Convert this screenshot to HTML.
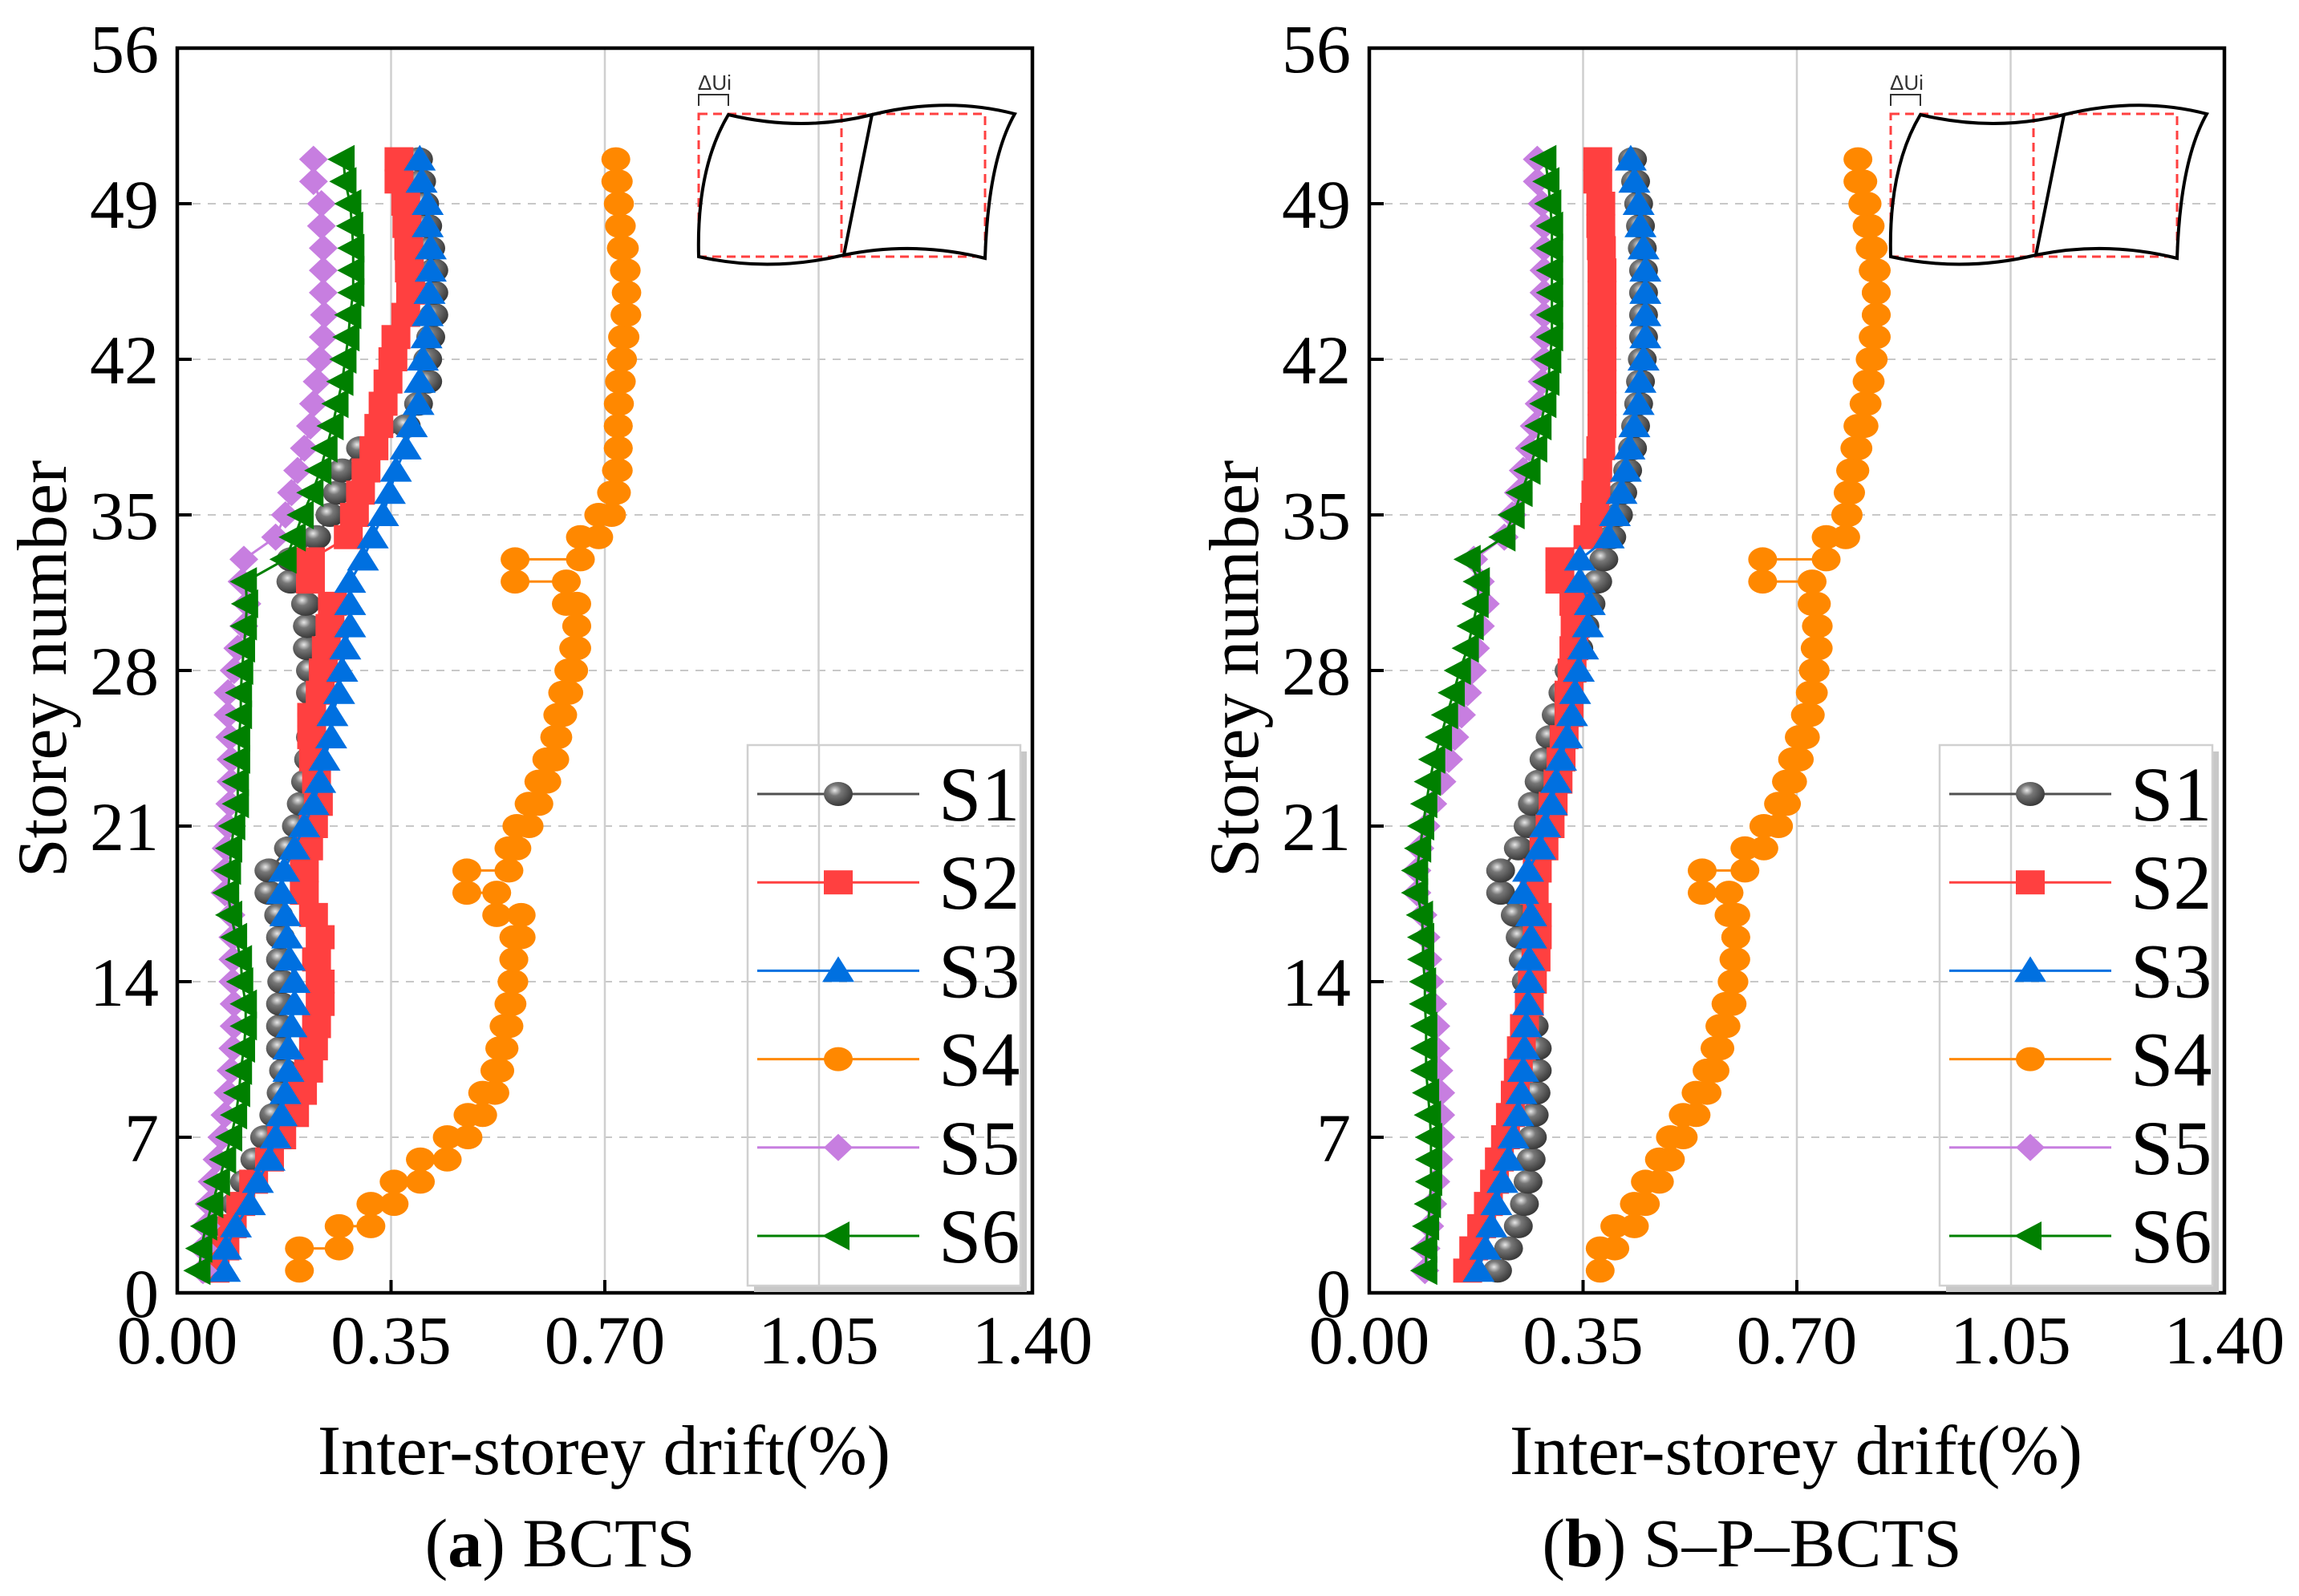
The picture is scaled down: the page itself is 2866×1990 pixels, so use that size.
<!DOCTYPE html>
<html><head><meta charset="utf-8"><style>
html,body{margin:0;padding:0;background:#fff;}
svg{display:block;font-family:"Liberation Serif",serif;}
</style></head><body>
<svg id="chart" width="2866" height="1990" viewBox="0 0 2866 1990" xmlns="http://www.w3.org/2000/svg">
<defs>
<radialGradient id="sphere" cx="0.38" cy="0.35" r="0.65">
<stop offset="0" stop-color="#e8e8e8"/><stop offset="0.35" stop-color="#777"/><stop offset="1" stop-color="#3a3a3a"/>
</radialGradient>
</defs>
</svg>
<script>
// ---- data (storey 1..51) ----
const storeys = [1,2,3,4,5,6,7,8,9,10,11,12,13,14,15,16,17,18,19,20,21,22,23,24,25,26,27,28,29,30,31,32,33,34,35,36,37,38,39,40,41,42,43,44,45,46,47,48,49,50,51];
const xTicks = ["0.00","0.35","0.70","1.05","1.40"];
const xTickValues = [0,0.35,0.70,1.05,1.40];
const yTicks = [0,7,14,21,28,35,42,49,56];
const seriesNames = ["S1","S2","S3","S4","S5","S6"];

const a_S1 = [0.055,0.065,0.08,0.095,0.11,0.127,0.143,0.158,0.17,0.174,0.169,0.169,0.169,0.171,0.169,0.169,0.166,0.15,0.15,0.182,0.195,0.203,0.21,0.215,0.218,0.22,0.218,0.218,0.213,0.213,0.21,0.186,0.186,0.228,0.25,0.262,0.27,0.30,0.375,0.395,0.41,0.41,0.415,0.42,0.42,0.42,0.415,0.41,0.405,0.40,0.395];
const a_S2 = [0.062,0.078,0.09,0.104,0.125,0.151,0.171,0.192,0.205,0.215,0.223,0.228,0.234,0.234,0.228,0.234,0.223,0.208,0.208,0.215,0.223,0.231,0.228,0.223,0.22,0.22,0.234,0.239,0.244,0.25,0.254,0.218,0.218,0.28,0.29,0.30,0.309,0.322,0.33,0.337,0.345,0.353,0.358,0.374,0.382,0.38,0.379,0.376,0.374,0.363,0.363];
const a_S3 = [0.078,0.08,0.096,0.119,0.132,0.151,0.161,0.171,0.177,0.182,0.182,0.187,0.192,0.192,0.184,0.18,0.177,0.171,0.175,0.192,0.208,0.223,0.234,0.241,0.252,0.254,0.265,0.27,0.275,0.283,0.283,0.283,0.304,0.32,0.337,0.348,0.358,0.374,0.384,0.395,0.397,0.402,0.408,0.41,0.413,0.415,0.415,0.41,0.41,0.4,0.397];
const a_S5 = [0.042,0.042,0.047,0.052,0.057,0.065,0.073,0.078,0.083,0.088,0.091,0.093,0.093,0.091,0.091,0.091,0.088,0.078,0.078,0.08,0.083,0.086,0.088,0.088,0.086,0.083,0.083,0.093,0.099,0.109,0.114,0.106,0.109,0.161,0.177,0.187,0.197,0.208,0.218,0.223,0.229,0.234,0.239,0.241,0.239,0.239,0.239,0.236,0.236,0.223,0.223];
const a_S6 = [0.036,0.039,0.047,0.057,0.068,0.078,0.088,0.096,0.101,0.104,0.109,0.112,0.112,0.106,0.104,0.096,0.088,0.083,0.086,0.088,0.093,0.099,0.099,0.101,0.101,0.104,0.104,0.106,0.109,0.112,0.114,0.112,0.177,0.192,0.205,0.221,0.234,0.244,0.254,0.262,0.27,0.275,0.28,0.283,0.288,0.288,0.288,0.286,0.283,0.275,0.272];
// S4 drift per storey interval k (storey k to k+1), k = 1..50
const a_S4 = [0.20,0.265,0.317,0.355,0.398,0.442,0.476,0.50,0.52,0.528,0.535,0.543,0.548,0.551,0.551,0.563,0.523,0.474,0.543,0.556,0.576,0.592,0.605,0.618,0.623,0.631,0.641,0.649,0.654,0.654,0.637,0.553,0.66,0.69,0.711,0.719,0.722,0.722,0.722,0.724,0.727,0.729,0.733,0.736,0.735,0.732,0.727,0.724,0.722,0.718];

const b_S1 = [0.21,0.228,0.244,0.254,0.26,0.265,0.267,0.27,0.273,0.275,0.275,0.27,0.262,0.257,0.252,0.247,0.239,0.215,0.215,0.244,0.26,0.267,0.278,0.286,0.296,0.306,0.317,0.327,0.343,0.353,0.363,0.374,0.384,0.397,0.408,0.415,0.423,0.431,0.436,0.441,0.444,0.447,0.449,0.449,0.449,0.449,0.447,0.444,0.441,0.436,0.431];
const b_S2 = [0.161,0.171,0.184,0.195,0.205,0.213,0.223,0.231,0.239,0.244,0.249,0.254,0.262,0.267,0.273,0.275,0.275,0.27,0.275,0.286,0.296,0.301,0.309,0.314,0.319,0.327,0.327,0.332,0.335,0.337,0.335,0.312,0.312,0.358,0.369,0.371,0.374,0.379,0.381,0.381,0.381,0.381,0.381,0.381,0.381,0.381,0.38,0.379,0.379,0.374,0.374];
const b_S3 = [0.179,0.19,0.2,0.208,0.218,0.228,0.236,0.244,0.249,0.252,0.254,0.257,0.26,0.262,0.262,0.265,0.265,0.252,0.26,0.28,0.288,0.299,0.306,0.314,0.324,0.332,0.337,0.343,0.35,0.358,0.361,0.345,0.345,0.392,0.402,0.413,0.42,0.426,0.434,0.441,0.444,0.449,0.452,0.452,0.452,0.452,0.449,0.444,0.441,0.434,0.428];
const b_S5 = [0.091,0.093,0.099,0.104,0.109,0.114,0.117,0.117,0.117,0.114,0.109,0.109,0.104,0.099,0.096,0.093,0.088,0.078,0.078,0.083,0.093,0.104,0.119,0.13,0.14,0.151,0.161,0.169,0.174,0.182,0.19,0.182,0.171,0.221,0.234,0.244,0.252,0.262,0.27,0.278,0.283,0.286,0.286,0.286,0.286,0.286,0.286,0.286,0.283,0.275,0.275];
const b_S6 = [0.093,0.093,0.096,0.099,0.101,0.101,0.101,0.099,0.096,0.093,0.093,0.093,0.091,0.091,0.088,0.088,0.086,0.078,0.078,0.083,0.088,0.093,0.099,0.106,0.117,0.127,0.138,0.148,0.161,0.169,0.177,0.179,0.164,0.221,0.236,0.249,0.262,0.273,0.28,0.288,0.293,0.296,0.299,0.299,0.299,0.299,0.299,0.299,0.296,0.293,0.288];
const b_S4 = [0.378,0.402,0.434,0.452,0.475,0.493,0.514,0.535,0.553,0.566,0.574,0.584,0.594,0.597,0.6,0.6,0.589,0.545,0.615,0.646,0.67,0.683,0.693,0.704,0.714,0.722,0.727,0.73,0.735,0.732,0.725,0.644,0.748,0.78,0.784,0.788,0.795,0.80,0.81,0.815,0.82,0.825,0.83,0.83,0.83,0.825,0.82,0.815,0.808,0.80];

const colors = {S1:"#505050",S2:"#ff4040",S3:"#0070e0",S4:"#ff8800",S5:"#c77ee0",S6:"#008000"};
const NS = "http://www.w3.org/2000/svg";
const svg = document.getElementById('chart');
function mk(tag, attrs, parent){const e=document.createElementNS(NS,tag);for(const k in attrs)e.setAttribute(k,attrs[k]);(parent||svg).appendChild(e);return e;}

const X0=221, X1=1287, Y0=1612, Y1=60;
function marker(g, type, cx, cy){
  let m;
  if(type==="S1"){m=mk('ellipse',{cx:cx,cy:cy,rx:18,ry:15,fill:'url(#sphere)'},g);}
  else if(type==="S2"){m=mk('rect',{x:cx-18,y:cy-15,width:36,height:30,fill:colors.S2},g);}
  else if(type==="S3"){m=mk('polygon',{points:`${cx},${cy-18} ${cx+20},${cy+14} ${cx-20},${cy+14}`,fill:colors.S3},g);}
  else if(type==="S4"){m=mk('ellipse',{cx:cx,cy:cy,rx:18,ry:15,fill:colors.S4},g);}
  else if(type==="S5"){m=mk('polygon',{points:`${cx},${cy-17} ${cx+18},${cy} ${cx},${cy+17} ${cx-18},${cy}`,fill:colors.S5},g);}
  else {m=mk('polygon',{points:`${cx-20},${cy} ${cx+14},${cy-18} ${cx+14},${cy+18}`,fill:colors.S6},g);}
  
  
  return m;
}

function panel(off, data, caption, bold){
  const xs=v=>off+X0+(v/1.4)*(X1-X0);
  const ys=s=>Y0-(s/56)*(Y0-Y1);
  const g=mk('g',{});
  
  
  yTicks.forEach(t=>{ if(t>0&&t<56){const l=mk('line',{x1:off+X0,x2:off+X1,y1:ys(t),y2:ys(t),stroke:'#c8c8c8','stroke-width':2,'stroke-dasharray':'10,9'},g);
    
    }});
  xTickValues.forEach(t=>{ if(t>0&&t<1.4){const l=mk('line',{x1:xs(t),x2:xs(t),y1:Y1,y2:Y0,stroke:'#cfcfcf','stroke-width':2.5},g);
    
    }});
  const ins=mk('g',{transform:`translate(${off},0)`},g);
  
  
  mk('path',{d:'M871,142 H1228 V320 H871 Z M1049,142 V320',fill:'none',stroke:'#ff4040','stroke-width':3,'stroke-dasharray':'11,7'},ins);
  mk('path',{d:'M908,143 Q1000,165 1087,143 Q1180,120 1265,142 Q1232,200 1228,322 Q1140,300 1052,318 Q960,340 871,320 Q868,210 908,143 Z M1087,143 L1052,318',fill:'none',stroke:'#000','stroke-width':4},ins);
  mk('path',{d:'M871,132 V118 H908 V132',fill:'none',stroke:'#333','stroke-width':2},ins);
  const du=mk('text',{x:870,y:112,'font-family':'Liberation Sans, sans-serif','font-size':26,fill:'#333'},ins);du.textContent='ΔUi';
  
  
  ["S1","S2","S3","S4","S5","S6"].forEach(name=>{
    const sg=mk('g',{},g);
    
    
    const vals=data[name]; let pts=[];
    if(name==="S4"){ vals.forEach((v,i)=>{pts.push([xs(v),ys(storeys[i])]);pts.push([xs(v),ys(storeys[i]+1)]);}); }
    else { vals.forEach((v,i)=>pts.push([xs(v),ys(storeys[i])])); }
    mk('polyline',{points:pts.map(p=>p.join(',')).join(' '),fill:'none',stroke:colors[name],'stroke-width':3},sg);
    pts.forEach(p=>marker(sg,name,p[0],p[1]));
  });
  const fr=mk('rect',{x:off+X0,y:Y1,width:X1-X0,height:Y0-Y1,fill:'none',stroke:'#000','stroke-width':4.5},g);
  
  
  yTicks.forEach(t=>{
    mk('line',{x1:off+X0,x2:off+X0+18,y1:ys(t),y2:ys(t),stroke:'#000','stroke-width':4},g);
    const tx=mk('text',{x:off+198,y:ys(t)+30,'text-anchor':'end','font-size':86},g);tx.textContent=t;
    
    
  });
  xTickValues.forEach((t,i)=>{
    mk('line',{x1:xs(t),x2:xs(t),y1:Y0,y2:Y0-16,stroke:'#000','stroke-width':4},g);
    const tx=mk('text',{x:xs(t),y:1700,'text-anchor':'middle','font-size':86},g);tx.textContent=xTicks[i];
    
    
  });
  const xl=mk('text',{x:off+753,y:1838,'text-anchor':'middle','font-size':88},g);xl.textContent='Inter-storey drift(%)';
  
  
  const yl=mk('text',{x:0,y:0,'text-anchor':'middle','font-size':88,transform:`translate(${off+82},834) rotate(-90)`},g);yl.textContent='Storey number';
  
  
  const cap=mk('text',{x:off+698,y:1953,'text-anchor':'middle','font-size':86},g);
  
  
  const t1=mk('tspan',{},cap);t1.textContent='(';
  const t2=mk('tspan',{'font-weight':'bold'},cap);t2.textContent=bold;
  const t3=mk('tspan',{},cap);t3.textContent=') '+caption;
  const lg=mk('g',{},g);
  
  
  mk('rect',{x:off+940,y:937,width:340,height:674,fill:'#c8c8c8'},lg);
  mk('rect',{x:off+932,y:929,width:340,height:674,fill:'#fff',stroke:'#d0d0d0','stroke-width':2.5},lg);
  mk('line',{x1:off+1021,x2:off+1021,y1:929,y2:1603,stroke:'#cfcfcf','stroke-width':2.5},lg);
  [21,14,7].forEach(t=>{ mk('line',{x1:off+932,x2:off+1272,y1:ys(t),y2:ys(t),stroke:'#c8c8c8','stroke-width':2,'stroke-dasharray':'10,9'},lg);});
  seriesNames.forEach((n,i)=>{
    const yy=990+i*110.2;
    const e=mk('g',{},lg);
    
    
    mk('line',{x1:off+944,x2:off+1146,y1:yy,y2:yy,stroke:colors[n],'stroke-width':3},e);
    marker(e,n,off+1045,yy);
    const tx=mk('text',{x:off+1170,y:yy+33,'font-size':96},e);tx.textContent=n;
  });
}
panel(0,{S1:a_S1,S2:a_S2,S3:a_S3,S4:a_S4,S5:a_S5,S6:a_S6},'BCTS','a');
panel(1486,{S1:b_S1,S2:b_S2,S3:b_S3,S4:b_S4,S5:b_S5,S6:b_S6},'S\u2013P\u2013BCTS','b');
</script>
</body></html>
